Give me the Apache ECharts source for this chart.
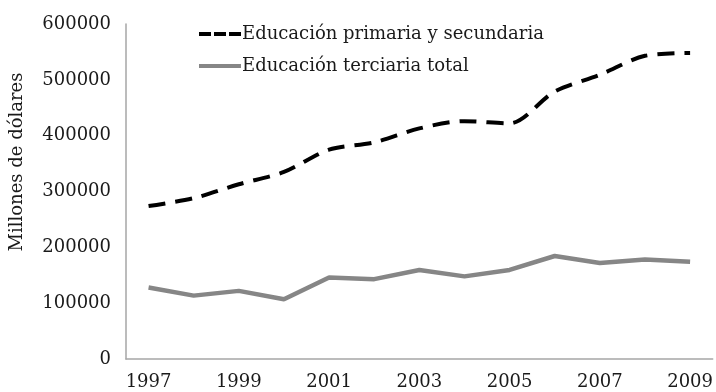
<!DOCTYPE html>
<html>
<head>
<meta charset="utf-8">
<script src="https://cdn.jsdelivr.net/npm/echarts@6/dist/echarts.min.js"></script>
<style>
  html, body { margin: 0; padding: 0; background: #fff; }
  #chart { width: 716px; height: 392px; }
</style>
</head>
<body>
<div id="chart"></div>
<script>
// Years on the horizontal axis
const years = ['1997','1998','1999','2000','2001','2002','2003','2004','2005','2006','2007','2008','2009'];
// Spending, millions of dollars
const primariaSecundaria = [274000, 288000, 313000, 335000, 375000, 388000, 413000, 426000, 422000, 479000, 509000, 543000, 548000];
const terciariaTotal = [128000, 113500, 122000, 107000, 146000, 143000, 159500, 148000, 159500, 184500, 172000, 178000, 174000];

const seriesNames = ['Educación primaria y secundaria', 'Educación terciaria total'];
const yAxisTitle = 'Millones de dólares';

const FONT = 'DejaVu Serif';
const TEXT_COLOR = '#1a1a1a';
// Legend keys: three short dashes, and one solid bar
const DASH_ICON = 'path://M0,0h12v4h-12z M15,0h12v4h-12z M30,0h12v4h-12z';
const SOLID_ICON = 'path://M0,0h42v4h-42z';

const chart = echarts.init(document.getElementById('chart'), null, { renderer: 'canvas' });

chart.setOption({
  animation: false,
  backgroundColor: '#ffffff',
  textStyle: { fontFamily: FONT },
  grid: { left: 126, right: 3, top: 24, bottom: 33, containLabel: false },
  legend: {
    orient: 'vertical',
    left: 194,
    top: 20,
    itemWidth: 42,
    itemHeight: 4,
    itemGap: 14,
    data: [
      { name: seriesNames[0], icon: DASH_ICON },
      { name: seriesNames[1], icon: SOLID_ICON }
    ],
    textStyle: { fontFamily: FONT, fontSize: 18, color: TEXT_COLOR, padding: [0, 0, 0, -4] }
  },
  // Rotated axis title, set left of the tick labels
  graphic: [{
    type: 'text',
    x: 17,
    y: 162,
    rotation: Math.PI / 2,
    style: {
      text: yAxisTitle,
      font: '18px "' + FONT + '"',
      fill: TEXT_COLOR,
      align: 'center',
      verticalAlign: 'middle'
    }
  }],
  xAxis: {
    type: 'category',
    data: years,
    boundaryGap: true,
    axisLine: { lineStyle: { color: '#a6a6a6', width: 1.5 } },
    axisTick: { show: false },
    axisLabel: { interval: 1, fontFamily: FONT, fontSize: 18, color: TEXT_COLOR, margin: 14 }
  },
  yAxis: {
    type: 'value',
    min: 0,
    max: 600000,
    interval: 100000,
    axisLine: { show: true, lineStyle: { color: '#a6a6a6', width: 1.5 } },
    axisTick: { show: false },
    splitLine: { show: false },
    axisLabel: {
      fontFamily: FONT, fontSize: 18, color: TEXT_COLOR, margin: 15,
      formatter: v => String(v)
    }
  },
  series: [
    {
      name: seriesNames[0],
      type: 'line',
      data: primariaSecundaria,
      smooth: 0.3,
      symbol: 'none',
      lineStyle: { color: '#000000', width: 4, type: [17, 10] },
      itemStyle: { color: '#000000' }
    },
    {
      name: seriesNames[1],
      type: 'line',
      data: terciariaTotal,
      symbol: 'none',
      lineStyle: { color: '#868686', width: 4.5 },
      itemStyle: { color: '#868686' }
    }
  ]
});
</script>
</body>
</html>
